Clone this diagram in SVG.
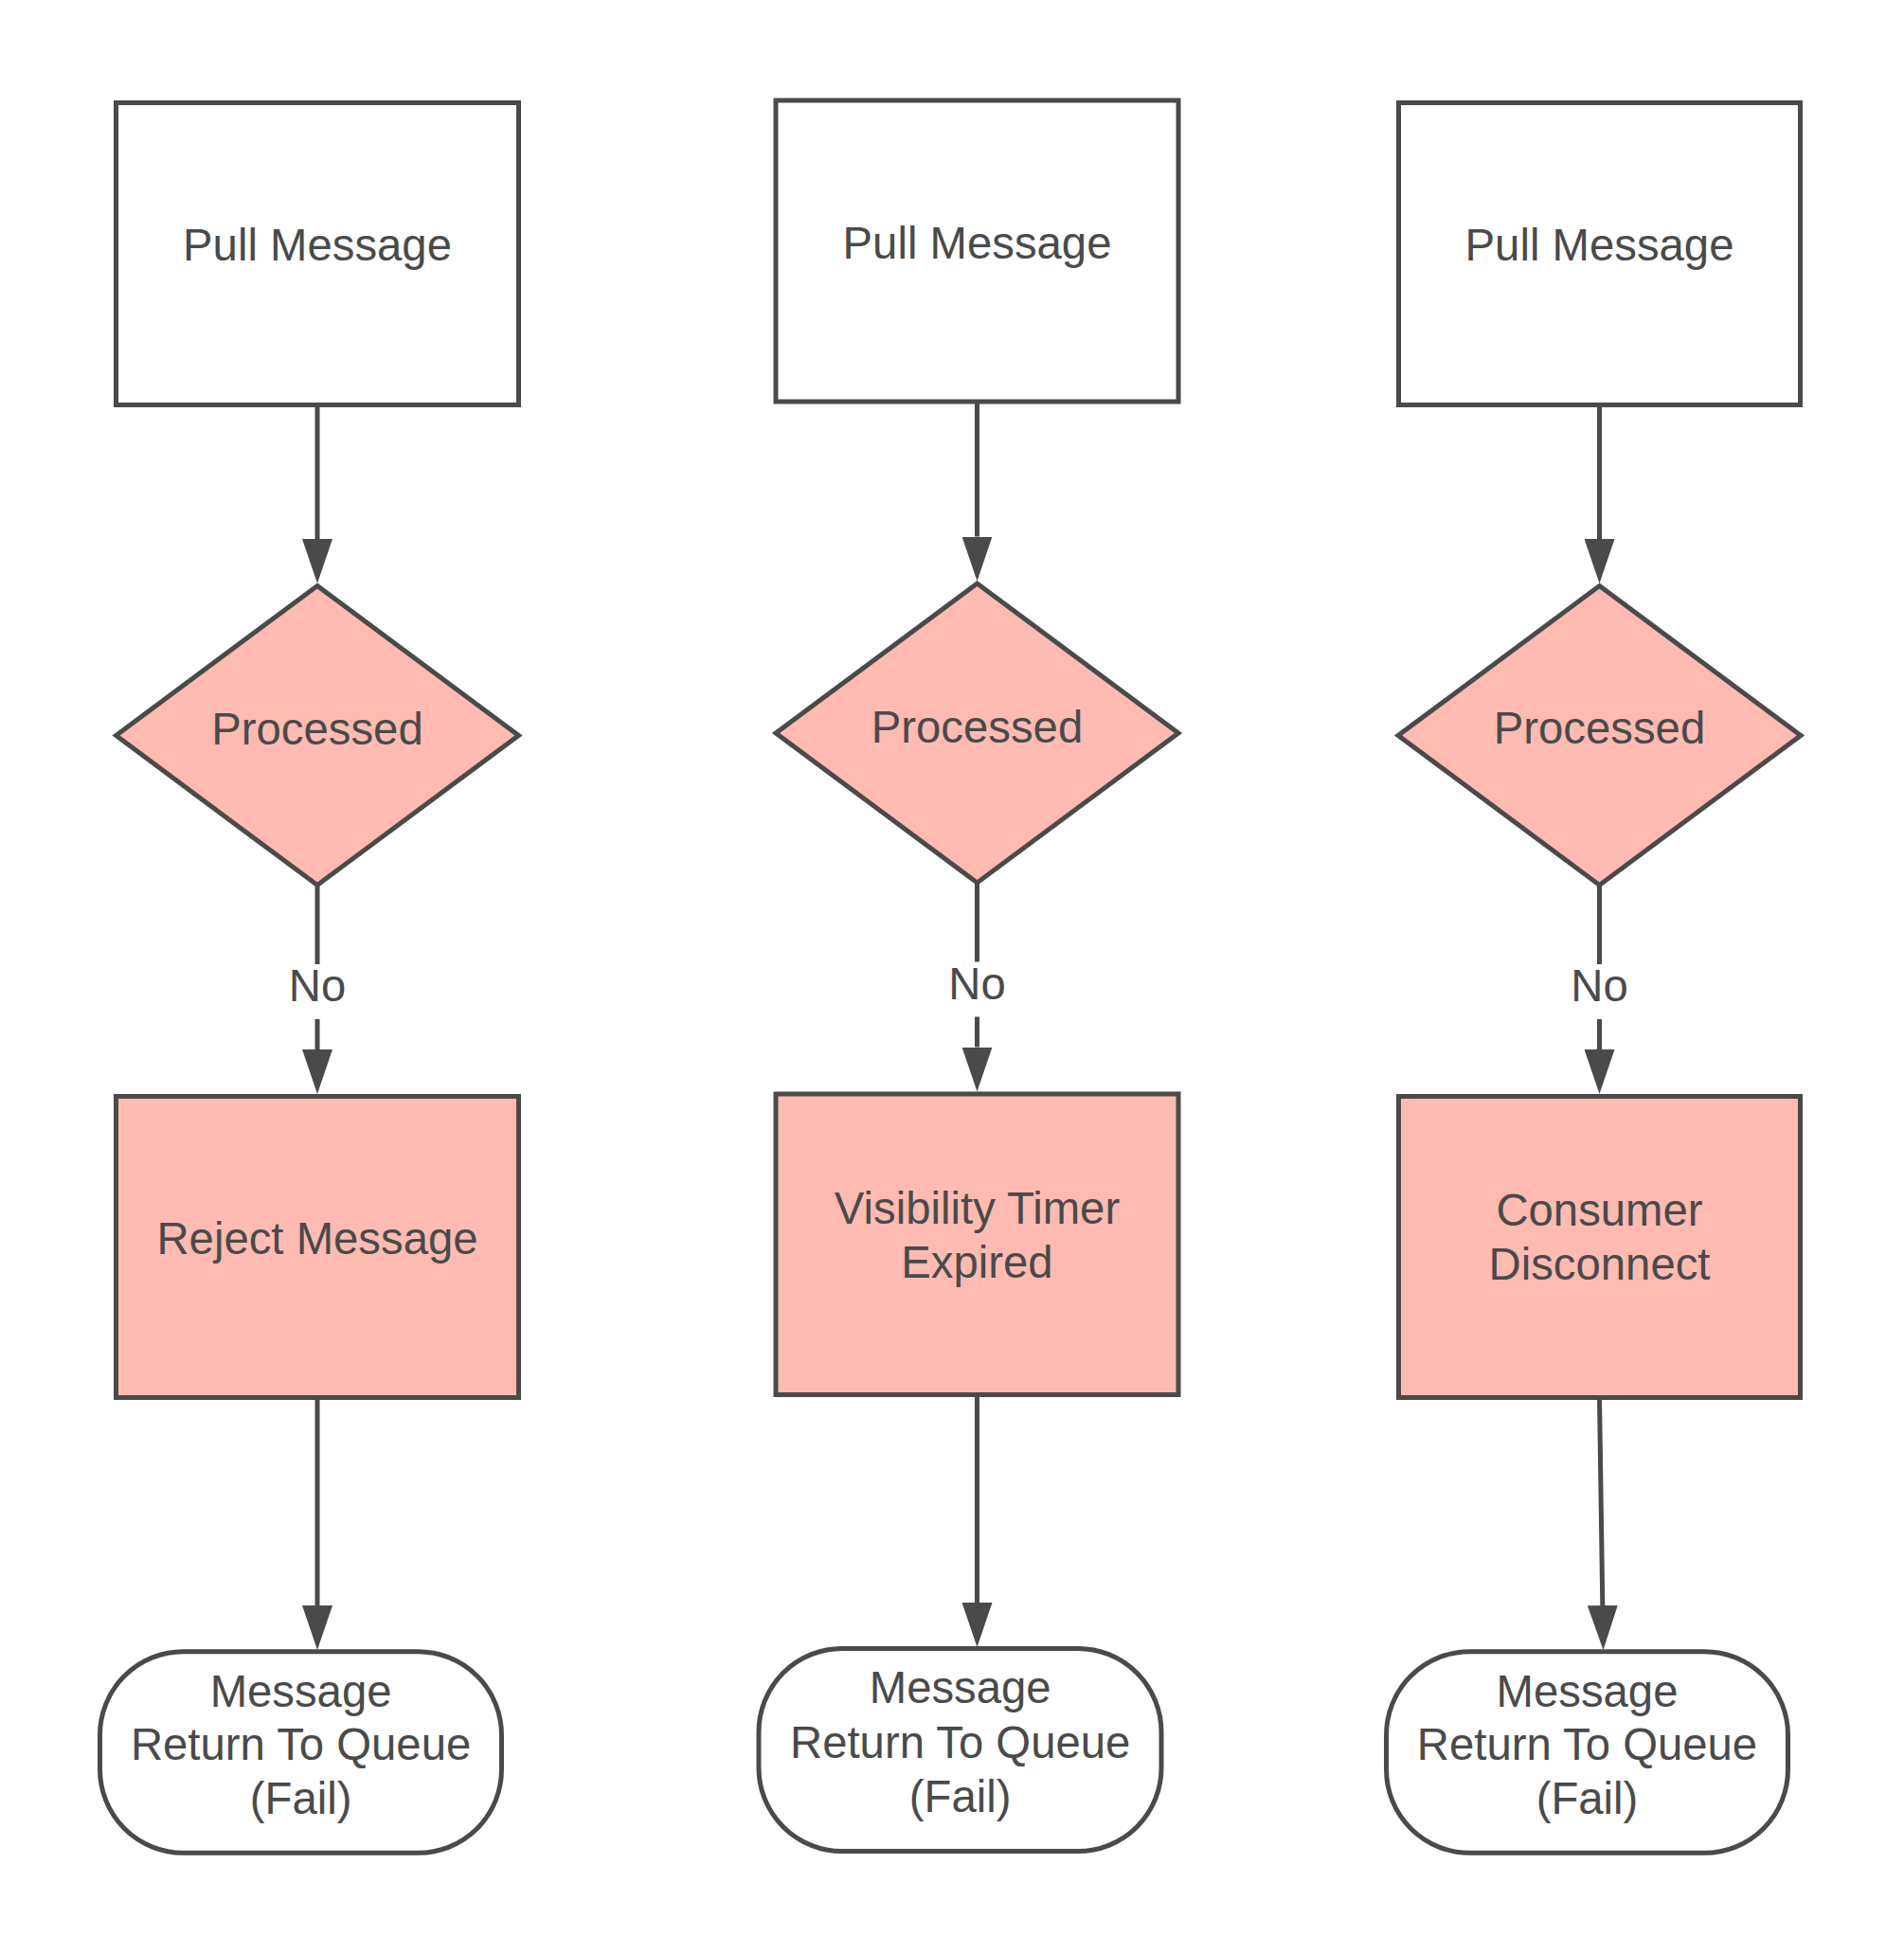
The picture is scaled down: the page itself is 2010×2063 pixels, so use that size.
<svg xmlns="http://www.w3.org/2000/svg" width="2010" height="2063" viewBox="0 0 2010 2063">
<style>
.box{stroke:#4a4a4a;stroke-width:5;stroke-linejoin:miter}
.plain{fill:#ffffff}
.pink{fill:#ffbbb1}
.t{font-family:"Liberation Sans",Arial,sans-serif;font-size:47.3px;fill:#4a4a4a;text-anchor:middle}
.edge{fill:none;stroke:#4a4a4a;stroke-width:5;marker-end:url(#arrow)}
</style>
<defs>
<marker id="arrow" viewBox="0 0 47 32" refX="0" refY="16" markerWidth="47" markerHeight="32" markerUnits="userSpaceOnUse" orient="auto">
<path d="M0,0 L47,16 L0,32 Z" fill="#4a4a4a"/>
</marker>
</defs>
<rect width="2010" height="2063" fill="#ffffff"/>
<g id="connectors">
<path class="edge" d="M335,427.5 V569"/>
<path class="edge" d="M335,935 V1018 M335,1076 V1108"/>
<path class="edge" d="M335,1475.5 V1695"/>
<path class="edge" d="M1031.5,424 V566.5"/>
<path class="edge" d="M1031.5,932.5 V1015.5 M1031.5,1073.5 V1105.5"/>
<path class="edge" d="M1031.5,1472.5 V1692"/>
<path class="edge" d="M1688.5,427.5 V569"/>
<path class="edge" d="M1688.5,935 V1018 M1688.5,1076 V1108"/>
<path class="edge" d="M1688.5,1475.5 L1691.8,1695"/>
<text class="t" x="335" y="1057">No</text>
<text class="t" x="1031.5" y="1054.5">No</text>
<text class="t" x="1688.5" y="1057">No</text>
</g>
<g id="pull1"><rect class="box plain" x="122.5" y="108.5" width="425" height="319"/><text class="t" x="335" y="275">Pull Message</text></g>
<g id="decision1"><polygon class="box pink" points="335,618.5 547.5,776.5 335,934.5 122.5,776.5"/><text class="t" x="335" y="786">Processed</text></g>
<g id="reject1"><rect class="box pink" x="122.5" y="1157.5" width="425" height="318"/><text class="t" x="335" y="1324">Reject Message</text></g>
<g id="return1"><rect class="box plain" x="105.5" y="1743.7" width="424" height="212.6" rx="88" ry="88"/><text class="t" x="317.6" y="1802">Message</text><text class="t" x="317.6" y="1858">Return To Queue</text><text class="t" x="317.6" y="1915">(Fail)</text></g>
<g id="pull2"><rect class="box plain" x="819" y="106" width="425" height="318"/><text class="t" x="1031.5" y="272.7">Pull Message</text></g>
<g id="decision2"><polygon class="box pink" points="1031.5,616 1244,774 1031.5,932 819,774"/><text class="t" x="1031.5" y="783.5">Processed</text></g>
<g id="visibility2"><rect class="box pink" x="819" y="1155" width="425" height="317.5"/><text class="t" x="1031.5" y="1292">Visibility Timer</text><text class="t" x="1031.5" y="1349">Expired</text></g>
<g id="return2"><rect class="box plain" x="801" y="1740.5" width="425" height="214" rx="88" ry="88"/><text class="t" x="1013.7" y="1798">Message</text><text class="t" x="1013.7" y="1856">Return To Queue</text><text class="t" x="1013.7" y="1913">(Fail)</text></g>
<g id="pull3"><rect class="box plain" x="1476.5" y="108.5" width="424" height="319"/><text class="t" x="1688.5" y="275">Pull Message</text></g>
<g id="decision3"><polygon class="box pink" points="1688.5,618.5 1901,776.5 1688.5,934.5 1476,776.5"/><text class="t" x="1688.5" y="785">Processed</text></g>
<g id="consumer3"><rect class="box pink" x="1476.5" y="1157.5" width="424" height="318"/><text class="t" x="1688.5" y="1294">Consumer</text><text class="t" x="1688.5" y="1351">Disconnect</text></g>
<g id="return3"><rect class="box plain" x="1463.5" y="1743.7" width="424" height="212.6" rx="88" ry="88"/><text class="t" x="1675.5" y="1802">Message</text><text class="t" x="1675.5" y="1858">Return To Queue</text><text class="t" x="1675.5" y="1915">(Fail)</text></g>
</svg>
